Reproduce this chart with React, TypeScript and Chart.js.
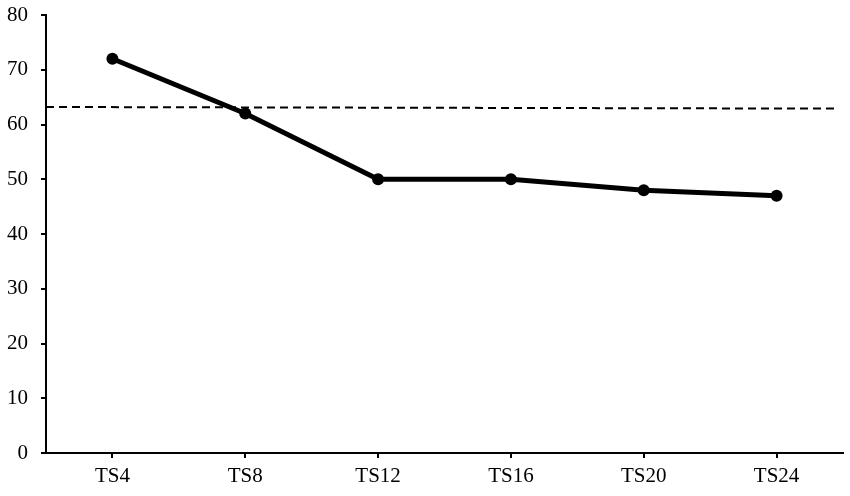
import React, { useEffect, useRef } from "react";
import { Chart, registerables } from "chart.js";

Chart.register(...registerables);

const categories = ["TS4", "TS8", "TS12", "TS16", "TS20", "TS24"];
const seriesValues = [72, 62, 50, 50, 48, 47];
const referenceLine = [
  { x: 0, y: 63.2 },
  { x: 0.994, y: 62.9 },
];
const yTicks = [0, 10, 20, 30, 40, 50, 60, 70, 80];

export default function App() {
  const ref = useRef<HTMLCanvasElement | null>(null);
  useEffect(() => {
    if (!ref.current) return;
    const font = { family: "'Liberation Serif', 'Times New Roman', serif", size: 21 };
    const chart = new Chart(ref.current, {
      type: "line",
      data: {
        labels: categories,
        datasets: [
          {
            data: seriesValues,
            borderColor: "#000",
            backgroundColor: "#000",
            borderWidth: 5,
            pointRadius: 6,
            pointHoverRadius: 6,
            pointBorderWidth: 0,
            pointBackgroundColor: "#000",
            pointBorderColor: "#000",
            tension: 0,
            xAxisID: "x",
          },
          {
            data: referenceLine as any,
            borderColor: "#000",
            borderWidth: 2,
            borderDash: [8, 5],
            pointRadius: 0,
            xAxisID: "x2",
          },
        ],
      },
      options: {
        animation: false,
        responsive: false,
        maintainAspectRatio: false,
        layout: { padding: { left: 0, right: 7, top: 15, bottom: 0 } },
        plugins: { legend: { display: false }, tooltip: { enabled: false } },
        scales: {
          x: {
            type: "category",
            offset: true,
            border: { color: "#000", width: 2 },
            grid: { display: true, drawOnChartArea: false, color: "#000", lineWidth: 2, tickLength: 5, offset: false },
            ticks: { color: "#000", font, padding: 6 },
            afterFit: (s: any) => { s.height = 43; s.paddingLeft = 0; s.paddingRight = 0; },
          },
          x2: {
            type: "linear",
            display: false,
            min: 0,
            max: 1,
          },
          y: {
            min: 0,
            max: 80,
            border: { color: "#000", width: 2 },
            grid: { display: true, drawOnChartArea: false, color: "#000", lineWidth: 2, tickLength: 5 },
            ticks: {
              color: "#000",
              font,
              padding: 13,
              stepSize: 10,
              callback: (v: any) => (yTicks.includes(Number(v)) ? String(v) : ""),
            },
            afterFit: (s: any) => { s.width = 46; s.paddingTop = 0; s.paddingBottom = 0; },
          },
        },
      },
    } as any);
    return () => chart.destroy();
  }, []);
  return (
    <div style={{ position: "fixed", left: 0, top: 0, width: 850, height: 496, background: "#fff" }}>
      <canvas ref={ref} width={850} height={496} style={{ width: 850, height: 496 }} />
    </div>
  );
}
